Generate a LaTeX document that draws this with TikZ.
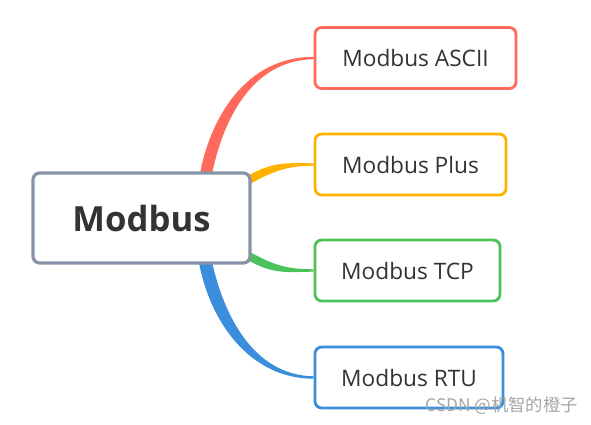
\documentclass[tikz,border=0pt]{standalone}
\usepackage{fontspec}
\setmainfont{Open Sans}
\newfontfamily\cjkfont{Noto Sans CJK SC}
\usetikzlibrary{calc}
\pgfdeclarelayer{bg}
\pgfsetlayers{bg,main}
\definecolor{cred}{HTML}{FF6A5C}
\definecolor{corange}{HTML}{FFB300}
\definecolor{cgreen}{HTML}{4CC35A}
\definecolor{cblue}{HTML}{3A8EDB}
\definecolor{cgray}{HTML}{8794A8}
\definecolor{ctext}{HTML}{333333}
\tikzset{
  rootbox/.style={draw=cgray, line width=2.4pt, fill=white, rounded corners=5pt,
    minimum width=162.75pt, minimum height=67.5pt, inner sep=0pt, text=ctext,
    font=\fontsize{26}{30}\selectfont\bfseries},
  leafbox/.style={draw=#1, line width=2.1pt, fill=white, rounded corners=5pt,
    minimum height=45.75pt, inner sep=0pt, text=ctext,
    font=\fontsize{17}{20}\selectfont},
}
\begin{document}
\begin{tikzpicture}[x=0.75pt,y=-0.75pt]
\useasboundingbox (0,0) rectangle (591,424);
\node[rootbox] (m) at (141.5,218) {Modbus};
\node[leafbox=cred, minimum width=150.75pt] (asc) at (415.5,58) {Modbus ASCII};
\node[leafbox=corange, minimum width=143.25pt] (plu) at (410.5,164.5) {Modbus Plus};
\node[leafbox=cgreen, minimum width=138.75pt] (tcp) at (407.5,270.5) {Modbus TCP};
\node[leafbox=cblue, minimum width=141pt] (rtu) at (409,377.5) {Modbus RTU};
\begin{pgfonlayer}{bg}
\fill[white] (0,0) rectangle (591,424);
\fill[cred] ($(m.north)+(58,5)$) .. controls +(10,-58) and +(-68,0) .. ($(asc.west)+(0,-1.2)$)
  -- ($(asc.west)+(0,1.2)$) .. controls +(-62,1) and +(11,-56) .. ($(m.north)+(70,5)$) -- cycle;
\fill[corange] ($(m.north east)+(-6,6)$) .. controls +(27,-17) and +(-23,0) .. ($(plu.west)+(0,-1.2)$)
  -- ($(plu.west)+(0,1.2)$) .. controls +(-22,0.3) and +(29,-17) .. ($(m.north east)+(-4,14)$) -- cycle;
\fill[cgreen] ($(m.south east)+(-4,-14)$) .. controls +(29,17) and +(-22,-0.3) .. ($(tcp.west)+(0,-1.2)$)
  -- ($(tcp.west)+(0,1.2)$) .. controls +(-23,0) and +(27,17) .. ($(m.south east)+(-6,-6)$) -- cycle;
\fill[cblue] ($(m.south)+(57,-5)$) .. controls +(10,60) and +(-65,0) .. ($(rtu.west)+(0,1.2)$)
  -- ($(rtu.west)+(0,-1.2)$) .. controls +(-60,-1) and +(12,56) .. ($(m.south)+(70,-5)$) -- cycle;
\end{pgfonlayer}
\node[anchor=east, inner sep=0pt, text=black!35, font=\cjkfont\fontsize{13}{15}\selectfont] (wm) at (578,406) {CSDN @机智的橙子};
\end{tikzpicture}
\end{document}
